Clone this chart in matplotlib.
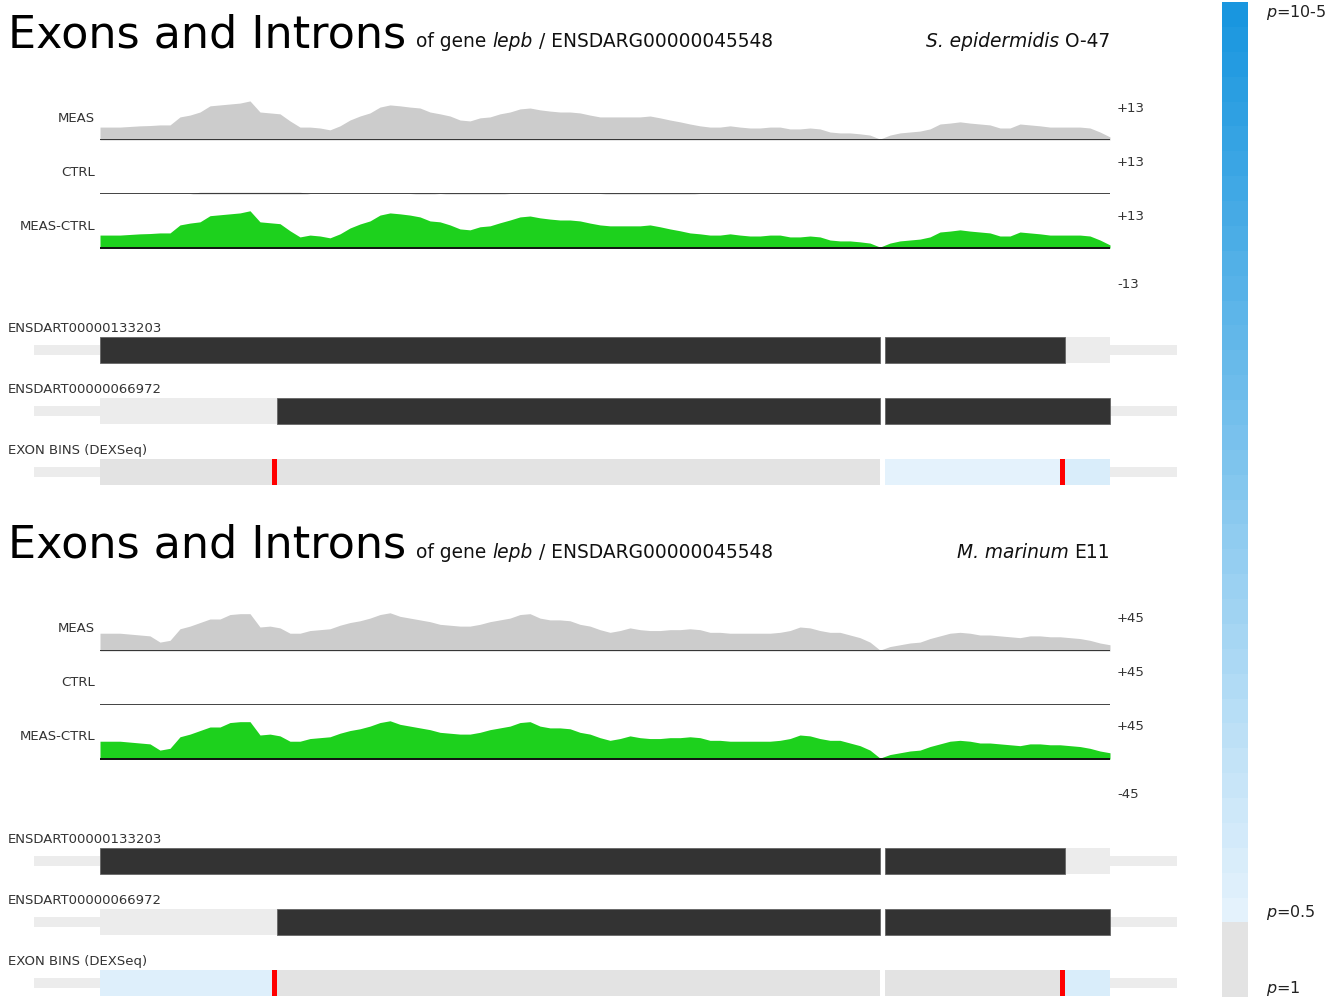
import numpy as np
import matplotlib
matplotlib.use("Agg")
import matplotlib.pyplot as plt
from matplotlib.colors import ListedColormap, BoundaryNorm, LinearSegmentedColormap
from matplotlib.cm import ScalarMappable

W, H = 1338, 999

# coverage, sampled every 10 bp along the collapsed gene model (exon 1 | exon 2)
pos = np.arange(0, 1020, 10)

meas_1 = [4.2, 4.2, 4.2, 4.4, 4.6, 4.7, 4.9, 4.9, 7.5, 8.1,
          9.1, 11.1, 11.4, 11.7, 12.0, 12.7, 9.1, 8.8, 8.5, 6.2,
          4.2, 4.2, 3.9, 3.3, 4.6, 6.5, 7.8, 8.8, 10.7, 11.4,
          11.1, 10.7, 10.4, 9.1, 8.5, 7.8, 6.5, 6.2, 7.2, 7.5,
          8.5, 9.1, 10.1, 10.4, 9.8, 9.4, 9.1, 9.1, 8.8, 8.1,
          7.5, 7.5, 7.5, 7.5, 7.5, 7.8, 7.2, 6.5, 5.9, 5.2,
          4.6, 4.2, 4.2, 4.6, 4.2, 3.9, 3.9, 4.2, 4.2, 3.6,
          3.6, 3.9, 3.6, 2.6, 2.3, 2.3, 2.0, 1.6, 0.3, 1.6,
          2.3, 2.6, 2.9, 3.6, 5.2, 5.5, 5.9, 5.5, 5.2, 4.9,
          3.9, 3.9, 5.2, 4.9, 4.6, 4.2, 4.2, 4.2, 4.2, 3.9,
          2.6, 1.0]
ctrl_1 = [0, 0, 0, 0, 0, 0, 0, 0, 0, 0,
          0.6, 0.6, 0.6, 0.6, 0.6, 0.6, 0.6, 0.6, 0.6, 0.6,
          0.6, 0, 0, 0, 0, 0, 0, 0, 0, 0,
          0, 0, 0.3, 0.3, 0, 0.3, 0.3, 0.3, 0.3, 0.3,
          0.3, 0, 0, 0, 0, 0, 0, 0, 0, 0,
          0, 0.3, 0.3, 0.3, 0.3, 0.3, 0.3, 0.3, 0.3, 0.3,
          0, 0, 0, 0, 0, 0, 0, 0, 0, 0,
          0, 0, 0, 0, 0, 0, 0, 0, 0, 0,
          0, 0, 0, 0, 0, 0, 0, 0, 0, 0,
          0, 0, 0, 0, 0, 0, 0, 0, 0, 0,
          0, 0]
meas_2 = [20, 20, 20, 19, 18, 17, 10, 12, 25, 28,
          32, 36, 36, 41, 42, 42, 27, 28, 26, 20,
          20, 23, 24, 25, 29, 32, 34, 37, 41, 43,
          39, 37, 35, 33, 30, 29, 28, 28, 30, 33,
          35, 37, 41, 42, 37, 35, 35, 34, 30, 28,
          24, 21, 23, 26, 24, 23, 23, 24, 24, 25,
          24, 21, 21, 20, 20, 20, 20, 20, 21, 23,
          27, 26, 23, 21, 21, 18, 15, 10, 1, 5,
          7, 9, 10, 14, 17, 20, 21, 20, 18, 18,
          17, 16, 15, 17, 17, 16, 16, 15, 14, 12,
          9, 7]
ctrl_2 = [0] * len(meas_2)

scales = [13, 45]
species = [("S. epidermidis", "O-47"), ("M. marinum", "E11")]

# gene model
exons = [(0, 780), (785, 1010)]
flank = (-66, 1077)
transcripts = ["ENSDART00000133203", "ENSDART00000066972"]
cds = [(0, 965), (177, 1010)]

bin_start = [0, 172, 177, 785, 960, 965]
bin_end = [172, 177, 780, 960, 965, 1010]
bin_red = [False, True, False, False, True, False]
bin_p_1 = [1.0, 1.0, 1.0, 0.4, 1.0, 0.25]
bin_p_2 = [0.35, 1.0, 1.0, 1.0, 1.0, 0.25]

GREY = "#e3e3e3"
n_blue = 37
blue_cmap = LinearSegmentedColormap.from_list("pblue", ["#e4f2fc", "#1996df"])
blues = [blue_cmap(i / (n_blue - 1)) for i in range(n_blue)]


def p_color(p):
    if p >= 0.5:
        return GREY
    t = (np.log10(0.5) - np.log10(p)) / (np.log10(0.5) + 5)
    return blues[min(int(t * n_blue), n_blue - 1)]


fig = plt.figure(figsize=(W / 100, H / 100), dpi=100)
bg = fig.add_axes([0, 0, 1, 1])
bg.axis("off")


def px_axes(x0, y0, x1, y1):
    ax = fig.add_axes([x0 / W, 1 - y1 / H, (x1 - x0) / W, (y1 - y0) / H])
    ax.axis("off")
    return ax


def ftext(x, y, s, **kw):
    return fig.text(x / W, 1 - y / H, s, **kw)


lab = dict(fontsize=9.5, color="#333333")

for k in range(2):
    off = 511 * k
    meas = np.array([meas_1, meas_2][k], dtype=float)
    ctrl = np.array([ctrl_1, ctrl_2][k], dtype=float)
    sc = scales[k]
    bin_p = [bin_p_1, bin_p_2][k]

    # header
    ftext(8, 47 + off, "Exons and Introns", fontsize=32, va="baseline")
    t1 = ftext(416, 47 + off, "of gene", fontsize=13.4, va="baseline", color="#111")
    t2 = bg.annotate("lepb", xy=(1, 0), xycoords=t1, xytext=(4.3, 0),
                     textcoords="offset points", fontsize=13.4, style="italic",
                     va="bottom", color="#111")
    bg.annotate("/ ENSDARG00000045548", xy=(1, 0), xycoords=t2, xytext=(4.3, 0),
                textcoords="offset points", fontsize=13.4, va="bottom", color="#111")
    s2 = ftext(1110, 47 + off, species[k][1], fontsize=13.4, va="baseline",
               ha="right", color="#111")
    bg.annotate(species[k][0], xy=(0, 0), xycoords=s2, xytext=(-4.3, 0),
                textcoords="offset points", fontsize=13.4, style="italic",
                va="bottom", ha="right", color="#111")

    # coverage tracks
    tracks = [("MEAS", meas, "#cccccc", "#333333", 140),
              ("CTRL", ctrl, "#cccccc", "#111111", 194),
              ("MEAS-CTRL", meas - ctrl, "#1dd11d", "#111111", 248)]
    for name, vals, col, lc, base in tracks:
        base = base + off
        if name == "MEAS-CTRL":
            ax = px_axes(100, base - 40, 1110, base + 40)
            ax.set_ylim(-sc, sc)
            ftext(1117, base + 36, f"-{sc}", va="center", **lab)
        else:
            ax = px_axes(100, base - 40, 1110, base)
            ax.set_ylim(0, sc)
        ax.set_xlim(0, 1010)
        ax.fill_between(pos, 0, vals, color=col, lw=0)
        ax.axhline(0, color=lc, lw=1.4 if name != "CTRL" else 1.1)
        ftext(95, base - 22, name, ha="right", va="center", **lab)
        ftext(1117, base - 32, f"+{sc}", va="center", **lab)

    # transcripts + exon bins
    ax = px_axes(34, 319.5 + off, 1177, 502.5 + off)
    ax.set_xlim(*flank)
    ax.set_ylim(2.5, -0.5)
    thin, thick = 10 / 61, 26 / 61
    rows = transcripts + ["EXON BINS (DEXSeq)"]
    for i, name in enumerate(rows):
        ax.text(-92, i - 0.36, name, ha="left", va="center", **lab)
        ax.barh([i, i], [exons[0][0] - flank[0], flank[1] - exons[-1][1]],
                left=[flank[0], exons[-1][1]], height=thin, color="#ececec", lw=0)
        if i < len(transcripts):
            ax.barh([i] * len(exons), [e - s for s, e in exons],
                    left=[s for s, e in exons], height=thick, color="#ececec", lw=0)
            cs, ce = cds[i]
            for s, e in exons:
                a, b = max(s, cs), min(e, ce)
                if b > a:
                    ax.barh(i, b - a, left=a, height=thick, color="#333333",
                            edgecolor="#666666", lw=0.6)
        else:
            cols = ["#ff0000" if r else p_color(p) for r, p in zip(bin_red, bin_p)]
            ax.barh([i] * len(bin_start), np.subtract(bin_end, bin_start),
                    left=bin_start, height=thick, color=cols, lw=0)

# p-value colour key
cax = fig.add_axes([1222 / W, 1 - 997 / H, 26 / W, 995 / H])
cmap = ListedColormap([GREY] * 3 + blues)
norm = BoundaryNorm(np.arange(n_blue + 4), n_blue + 3)
cb = fig.colorbar(ScalarMappable(norm=norm, cmap=cmap), cax=cax, ticks=[])
cb.minorticks_off()
cb.ax.tick_params(which="both", length=0, labelright=False)
cb.outline.set_visible(False)
key = dict(fontsize=11.5, color="#222222", va="center")
ftext(1266, 13, "$p$=10-5", **key)
ftext(1266, 913, "$p$=0.5", **key)
ftext(1266, 988, "$p$=1", **key)

fig.savefig("out.png", dpi=100, facecolor="white")
